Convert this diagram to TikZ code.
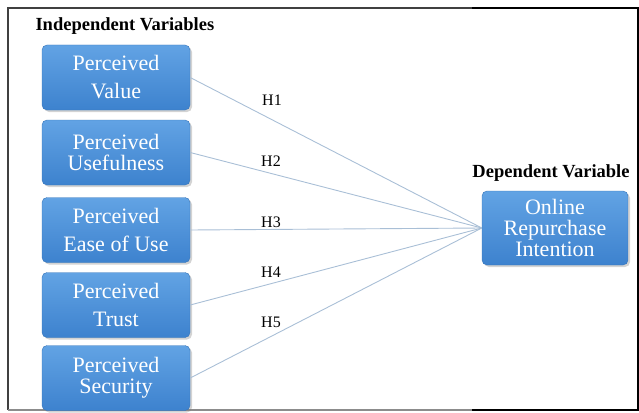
\documentclass[tikz,border=0pt]{standalone}
\usepackage{fontspec}
\setmainfont{Liberation Serif}
\usetikzlibrary{shadows}
\definecolor{boxtop}{HTML}{62A3E4}
\definecolor{boxbot}{HTML}{3D82CE}
\definecolor{linkcol}{HTML}{A9BFD6}

\begin{document}
\begin{tikzpicture}[x=1pt, y=-1pt,
    var/.style={rounded corners=5pt, top color=boxtop, bottom color=boxbot,
      draw=boxbot!90!black, line width=0.4pt, text=white, align=center,
      minimum width=148pt, minimum height=65pt, inner sep=2pt,
      font=\fontsize{22}{21}\selectfont,
      drop shadow={shadow xshift=2pt, shadow yshift=-2pt, opacity=0.35}},
    head/.style={font=\fontsize{18.5}{20}\selectfont\bfseries},
    hyp/.style={font=\fontsize{16}{17}\selectfont},
    link/.style={draw=linkcol, line width=0.9pt}]
  % frame
  \useasboundingbox (0,0) rectangle (639,412);
  \draw[line width=2pt, black!75] (8,410) -- (8,8) -- (472,8);
  \draw[line width=2pt, black] (472,8) -- (638,8) -- (638,410) -- (472,410);
  \draw[line width=1.5pt, black!45] (472,410) -- (8,410);
  % headings
  \node[head, anchor=west] (indep) at (32,26) {Independent Variables};
  \node[head] (dephead) at (551,173) {Dependent Variable};
  % independent variables
  \node[var] (pv) at (116,77.5) {Perceived\\[7pt]Value};
  \node[var] (pu) at (116,152.5) {Perceived\\Usefulness};
  \node[var] (pe) at (116,230) {Perceived\\[7pt]Ease of Use};
  \node[var] (pt) at (116,305) {Perceived\\[7pt]Trust};
  \node[var] (ps) at (116,378) {Perceived\\Security};
  % dependent variable
  \node[var, minimum width=146pt, minimum height=74pt] (ori) at (555,228)
    {Online\\Repurchase\\Intention};
  % hypotheses
  \foreach \src in {pv,pu,pe,pt,ps}
    \draw[link] (\src.east) -- (ori.west);
  \node[hyp] (h1) at (272,100) {H1};
  \node[hyp] (h2) at (271,161) {H2};
  \node[hyp] (h3) at (271,222) {H3};
  \node[hyp] (h4) at (271,272) {H4};
  \node[hyp] (h5) at (271,322) {H5};
\end{tikzpicture}
\end{document}
